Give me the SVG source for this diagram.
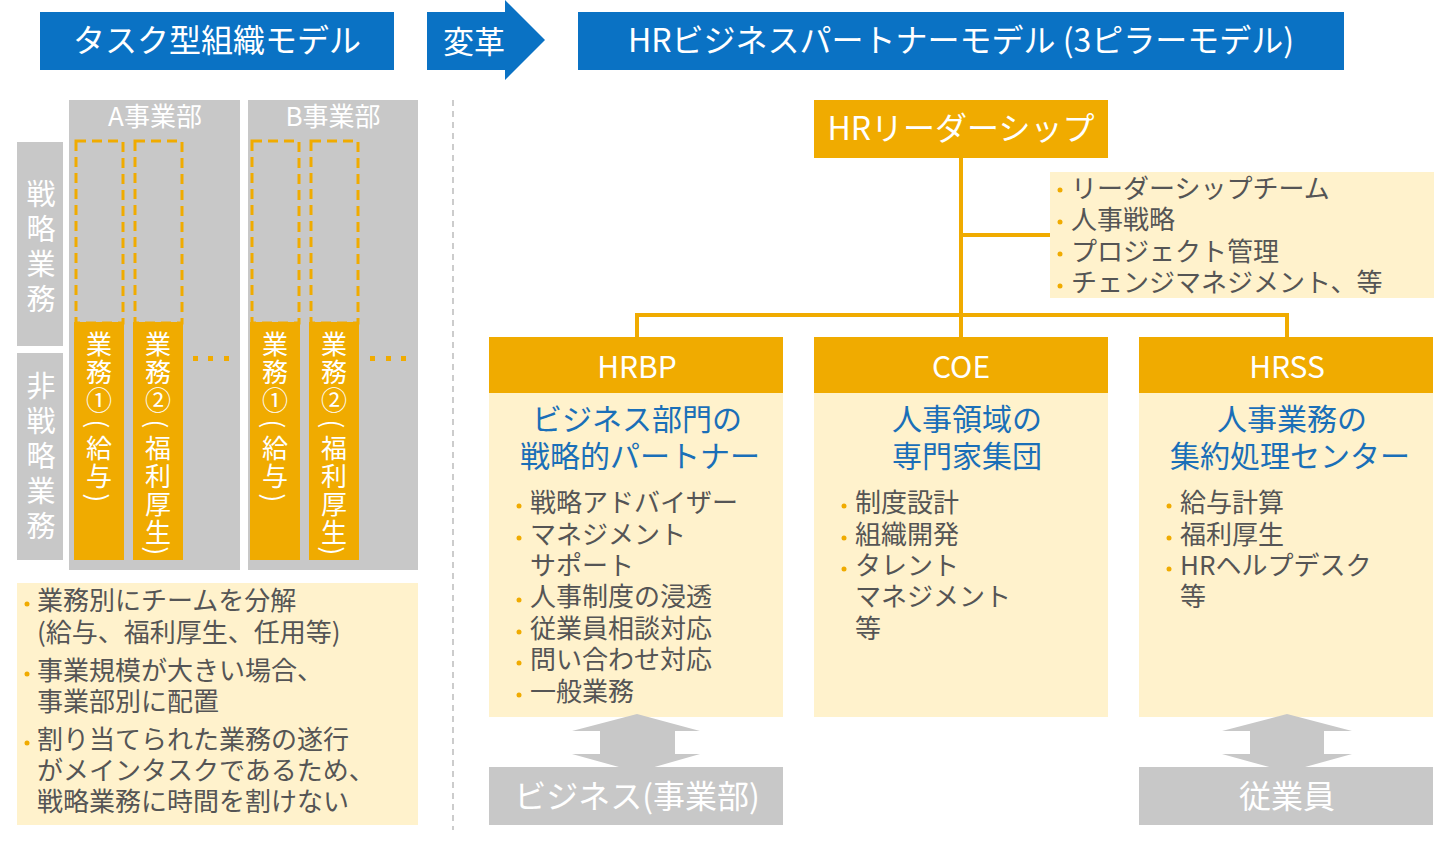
<svg xmlns="http://www.w3.org/2000/svg" width="1446" height="842" viewBox="0 0 1446 842">
<style>
text{font-family:"Noto Sans CJK JP","Noto Sans",sans-serif}
.blue{fill:#0A72C4}
.or{fill:#F0AB00}
.ly{fill:#FFF2CC}
.gr{fill:#C8C8C8}
.wt{fill:#fff}
.bt{fill:#1A6FB8}
.dk{fill:#555}
.bul{fill:#F0AB00}
.ln{stroke:#F0AB00;stroke-width:4;fill:none}
.p{fill:#fff;font-size:26px;text-anchor:middle;dominant-baseline:central}
</style>
<rect width="1446" height="842" fill="#fff"/>
<g id="title-left"><rect class="blue" x="40" y="12" width="354" height="58"/><text class="wt" x="217" y="52" font-size="32" text-anchor="middle">タスク型組織モデル</text></g>
<g id="title-arrow"><path class="blue" d="M427 12H505V0L545 40L505 80V70H427Z"/><text class="wt" x="474" y="53" font-size="31" text-anchor="middle">変革</text></g>
<g id="title-right"><rect class="blue" x="578" y="12" width="766" height="58"/><text class="wt" x="961" y="52" font-size="32" text-anchor="middle">HRビジネスパートナーモデル (3ピラーモデル)</text></g>
<line x1="453" y1="100" x2="453" y2="830" stroke="#ccc" stroke-width="2" stroke-dasharray="6,5"/>
<g id="left-panel">
<rect class="gr" x="69" y="100" width="171" height="470"/>
<rect class="gr" x="248" y="100" width="170" height="470"/>
<text class="wt" x="155" y="126" font-size="26" text-anchor="middle">A事業部</text>
<text class="wt" x="333" y="126" font-size="26" text-anchor="middle">B事業部</text>
<rect class="gr" x="17" y="142" width="46" height="204"/>
<rect class="gr" x="17" y="353" width="46" height="207"/>
<text class="wt" font-size="29" text-anchor="middle"><tspan x="41" y="205">戦</tspan><tspan x="41" y="240">略</tspan><tspan x="41" y="275">業</tspan><tspan x="41" y="310">務</tspan></text>
<text class="wt" font-size="29" text-anchor="middle"><tspan x="41" y="397">非</tspan><tspan x="41" y="432">戦</tspan><tspan x="41" y="467">略</tspan><tspan x="41" y="502">業</tspan><tspan x="41" y="537">務</tspan></text>
<g fill="none" stroke="#F0AB00" stroke-width="3" stroke-dasharray="10,6">
<rect x="76" y="141" width="47" height="182"/><rect x="135" y="141" width="47" height="182"/>
<rect x="252" y="141" width="47" height="182"/><rect x="311" y="141" width="47" height="182"/>
</g>
<rect class="or" x="74" y="322" width="50" height="238"/><rect class="or" x="133" y="322" width="50" height="238"/>
<rect class="or" x="250" y="322" width="50" height="238"/><rect class="or" x="309" y="322" width="50" height="238"/>
<g class="wt" font-size="26" text-anchor="middle">
<text><tspan x="99" y="354">業</tspan><tspan x="99" y="382">務</tspan><tspan x="99" y="410">①</tspan><tspan x="99" y="458">給</tspan><tspan x="99" y="486">与</tspan></text>
<text><tspan x="158" y="354">業</tspan><tspan x="158" y="382">務</tspan><tspan x="158" y="410">②</tspan><tspan x="158" y="458">福</tspan><tspan x="158" y="486">利</tspan><tspan x="158" y="514">厚</tspan><tspan x="158" y="542">生</tspan></text>
<text><tspan x="275" y="354">業</tspan><tspan x="275" y="382">務</tspan><tspan x="275" y="410">①</tspan><tspan x="275" y="458">給</tspan><tspan x="275" y="486">与</tspan></text>
<text><tspan x="334" y="354">業</tspan><tspan x="334" y="382">務</tspan><tspan x="334" y="410">②</tspan><tspan x="334" y="458">福</tspan><tspan x="334" y="486">利</tspan><tspan x="334" y="514">厚</tspan><tspan x="334" y="542">生</tspan></text>
</g>
<text class="p" transform="translate(99,424) rotate(90)">(</text><text class="p" transform="translate(99,498) rotate(90)">)</text>
<text class="p" transform="translate(158,424) rotate(90)">(</text><text class="p" transform="translate(158,551) rotate(90)">)</text>
<text class="p" transform="translate(275,424) rotate(90)">(</text><text class="p" transform="translate(275,498) rotate(90)">)</text>
<text class="p" transform="translate(334,424) rotate(90)">(</text><text class="p" transform="translate(334,551) rotate(90)">)</text>
<g class="or"><rect x="193" y="356" width="5" height="5"/><rect x="208" y="356" width="5" height="5"/><rect x="224" y="356" width="5" height="5"/>
<rect x="370" y="356" width="5" height="5"/><rect x="386" y="356" width="5" height="5"/><rect x="401" y="356" width="5" height="5"/></g>
</g>
<g id="left-notes"><rect class="ly" x="17" y="583" width="401" height="242"/>
<g class="dk" font-size="26">
<text x="37" y="610">業務別にチームを分解</text><text x="37" y="642">(給与、福利厚生、任用等)</text>
<text x="37" y="680">事業規模が大きい場合、</text><text x="37" y="711">事業部別に配置</text>
<text x="37" y="749">割り当てられた業務の遂行</text><text x="37" y="780">がメインタスクであるため、</text><text x="37" y="811">戦略業務に時間を割けない</text></g>
<g class="bul"><circle cx="27" cy="604" r="2.5"/><circle cx="27" cy="674" r="2.5"/><circle cx="27" cy="743" r="2.5"/></g>
</g>
<g id="connectors" class="ln">
<path d="M961 158V337"/><path d="M961 235H1050"/><path d="M637 337V315H1287V337"/>
</g>
<g id="hr-leadership"><rect class="or" x="814" y="100" width="294" height="58"/><text class="wt" x="961" y="140" font-size="32" text-anchor="middle">HRリーダーシップ</text></g>
<g id="leadership-notes"><rect class="ly" x="1050" y="172" width="384" height="126"/>
<g class="dk" font-size="26"><text x="1071" y="198">リーダーシップチーム</text><text x="1071" y="229">人事戦略</text><text x="1071" y="261">プロジェクト管理</text><text x="1071" y="292">チェンジマネジメント、等</text></g>
<g class="bul"><circle cx="1060" cy="190" r="2.5"/><circle cx="1060" cy="222" r="2.5"/><circle cx="1060" cy="254" r="2.5"/><circle cx="1060" cy="286" r="2.5"/></g></g>
<g id="hrbp"><rect class="ly" x="489" y="393" width="294" height="324"/><rect class="or" x="489" y="337" width="294" height="56"/>
<text class="wt" x="637" y="378" font-size="30" text-anchor="middle">HRBP</text>
<text class="bt" font-size="30" text-anchor="middle"><tspan x="637" y="430">ビジネス部門の</tspan><tspan x="640" y="467">戦略的パートナー</tspan></text>
<g class="dk" font-size="26"><text x="530" y="512">戦略アドバイザー</text><text x="530" y="544">マネジメント</text><text x="530" y="575">サポート</text><text x="530" y="606">人事制度の浸透</text><text x="530" y="638">従業員相談対応</text><text x="530" y="669">問い合わせ対応</text><text x="530" y="701">一般業務</text></g>
<g class="bul"><circle cx="519" cy="506" r="2.5"/><circle cx="519" cy="538" r="2.5"/><circle cx="519" cy="600" r="2.5"/><circle cx="519" cy="632" r="2.5"/><circle cx="519" cy="663" r="2.5"/><circle cx="519" cy="695" r="2.5"/></g></g>
<g id="coe"><rect class="ly" x="814" y="393" width="294" height="324"/><rect class="or" x="814" y="337" width="294" height="56"/>
<text class="wt" x="961" y="378" font-size="30" text-anchor="middle">COE</text>
<text class="bt" font-size="30" text-anchor="middle"><tspan x="967" y="430">人事領域の</tspan><tspan x="967" y="467">専門家集団</tspan></text>
<g class="dk" font-size="26"><text x="855" y="512">制度設計</text><text x="855" y="544">組織開発</text><text x="855" y="575">タレント</text><text x="855" y="606">マネジメント</text><text x="855" y="638">等</text></g>
<g class="bul"><circle cx="844" cy="506" r="2.5"/><circle cx="844" cy="538" r="2.5"/><circle cx="844" cy="569" r="2.5"/></g></g>
<g id="hrss"><rect class="ly" x="1139" y="393" width="294" height="324"/><rect class="or" x="1139" y="337" width="294" height="56"/>
<text class="wt" x="1287" y="378" font-size="30" text-anchor="middle">HRSS</text>
<text class="bt" font-size="30" text-anchor="middle"><tspan x="1292" y="430">人事業務の</tspan><tspan x="1290" y="467">集約処理センター</tspan></text>
<g class="dk" font-size="26"><text x="1180" y="512">給与計算</text><text x="1180" y="544">福利厚生</text><text x="1180" y="575">HRヘルプデスク</text><text x="1180" y="606">等</text></g>
<g class="bul"><circle cx="1169" cy="506" r="2.5"/><circle cx="1169" cy="538" r="2.5"/><circle cx="1169" cy="569" r="2.5"/></g></g>
<g id="double-arrows" class="gr">
<path d="M637 714L700 731H675V754H700L637 772L572 754H600V731H572Z"/>
<path d="M1287 714L1352 731H1324V754H1352L1287 772L1222 754H1250V731H1222Z"/>
</g>
<g id="business"><rect class="gr" x="489" y="767" width="294" height="58"/><text class="wt" x="637" y="808" font-size="32" text-anchor="middle">ビジネス(事業部)</text></g>
<g id="employees"><rect class="gr" x="1139" y="767" width="294" height="58"/><text class="wt" x="1287" y="808" font-size="32" text-anchor="middle">従業員</text></g>
</svg>
